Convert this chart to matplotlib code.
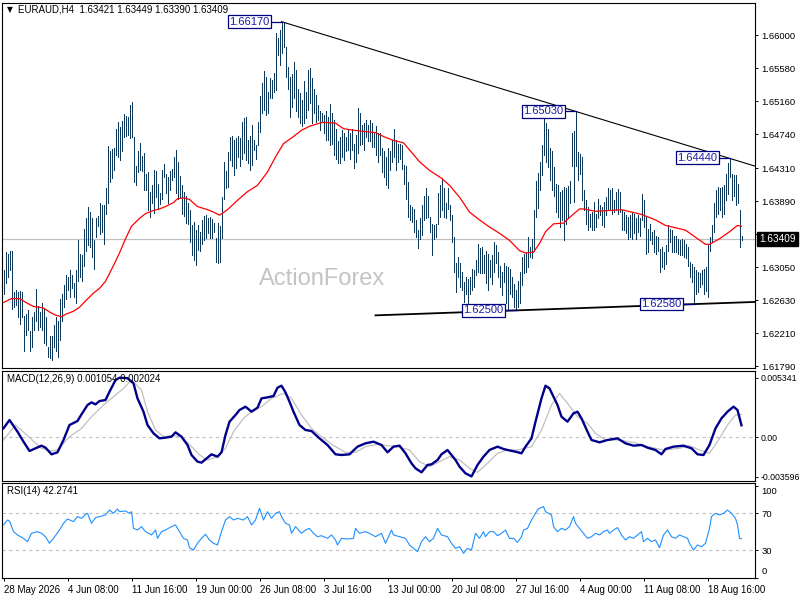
import matplotlib
matplotlib.use('Agg')
import matplotlib.pyplot as plt
import numpy as np

plt.rcParams['font.family'] = ['Liberation Sans', 'DejaVu Sans']

# ---------------- data ----------------
symbol_line = 'EURAUD,H4  1.63421 1.63449 1.63390 1.63409'
macd_title = 'MACD(12,26,9) 0.001054 0.002024'
rsi_title = 'RSI(14) 42.2741'
watermark = 'ActionForex'

bar_high = [
    1.6301,1.6324,1.6322,1.6326,1.6325,1.6274,1.6276,1.6274,1.6275,1.6274,
    1.6243,1.6245,1.6250,1.6224,1.6242,1.6248,1.6277,1.6255,1.6248,1.6260,
    1.6252,1.6242,1.6204,1.6218,1.6218,1.6231,1.6241,1.6237,1.6264,1.6271,
    1.6282,1.6295,1.6293,1.6301,1.6295,1.6285,1.6301,1.6339,1.6322,1.6321,
    1.6354,1.6367,1.6382,1.6375,1.6367,1.6340,1.6367,1.6370,1.6387,1.6384,
    1.6384,1.6406,1.6459,1.6452,1.6455,1.6457,1.6480,1.6490,1.6483,1.6491,
    1.6500,1.6497,1.6496,1.6511,1.6515,1.6470,1.6433,1.6452,1.6463,1.6446,
    1.6450,1.6424,1.6426,1.6401,1.6410,1.6428,1.6427,1.6411,1.6399,1.6429,
    1.6436,1.6424,1.6420,1.6427,1.6430,1.6445,1.6454,1.6439,1.6421,1.6410,
    1.6400,1.6395,1.6386,1.6377,1.6358,1.6363,1.6352,1.6358,1.6350,1.6365,
    1.6370,1.6371,1.6367,1.6369,1.6366,1.6361,1.6342,1.6361,1.6357,1.6394,
    1.6438,1.6427,1.6451,1.6470,1.6472,1.6466,1.6469,1.6472,1.6469,1.6490,
    1.6495,1.6496,1.6467,1.6472,1.6486,1.6467,1.6460,1.6490,1.6523,1.6539,
    1.6554,1.6547,1.6528,1.6545,1.6543,1.6552,1.6603,1.6596,1.6607,1.6617,
    1.6615,1.6585,1.6560,1.6547,1.6551,1.6566,1.6556,1.6532,1.6526,1.6517,
    1.6541,1.6528,1.6556,1.6558,1.6545,1.6532,1.6524,1.6511,1.6503,1.6501,
    1.6498,1.6503,1.6496,1.6512,1.6501,1.6492,1.6481,1.6465,1.6471,1.6479,
    1.6475,1.6471,1.6479,1.6475,1.6481,1.6462,1.6473,1.6507,1.6501,1.6486,
    1.6488,1.6492,1.6486,1.6492,1.6488,1.6475,1.6485,1.6475,1.6476,1.6456,
    1.6452,1.6445,1.6456,1.6452,1.6467,1.6481,1.6466,1.6462,1.6462,1.6460,
    1.6435,1.6433,1.6413,1.6384,1.6382,1.6379,1.6365,1.6352,1.6367,1.6384,
    1.6396,1.6405,1.6395,1.6369,1.6360,1.6358,1.6360,1.6399,1.6409,1.6418,
    1.6405,1.6386,1.6405,1.6384,1.6371,1.6343,1.6310,1.6318,1.6310,1.6299,
    1.6286,1.6293,1.6290,1.6293,1.6303,1.6301,1.6314,1.6335,1.6329,1.6331,
    1.6320,1.6326,1.6322,1.6314,1.6320,1.6337,1.6333,1.6324,1.6307,1.6299,
    1.6310,1.6307,1.6305,1.6303,1.6293,1.6284,1.6276,1.6288,1.6299,1.6318,
    1.6322,1.6324,1.6343,1.6331,1.6341,1.6377,1.6415,1.6425,1.6439,1.6460,
    1.6494,1.6488,1.6481,1.6456,1.6452,1.6432,1.6411,1.6409,1.6400,1.6403,
    1.6407,1.6405,1.6408,1.6415,1.6476,1.6478,1.6503,1.6451,1.6449,1.6445,
    1.6403,1.6390,1.6381,1.6373,1.6375,1.6388,1.6373,1.6392,1.6384,1.6381,
    1.6388,1.6394,1.6405,1.6403,1.6405,1.6390,1.6401,1.6404,1.6401,1.6377,
    1.6375,1.6371,1.6369,1.6371,1.6375,1.6373,1.6367,1.6371,1.6367,1.6398,
    1.6390,1.6369,1.6354,1.6360,1.6350,1.6352,1.6345,1.6343,1.6328,1.6331,
    1.6324,1.6333,1.6358,1.6354,1.6352,1.6345,1.6345,1.6341,1.6339,1.6341,
    1.6339,1.6335,1.6331,1.6312,1.6309,1.6305,1.6301,1.6299,1.6297,1.6301,
    1.6303,1.6305,1.6335,1.6343,1.6358,1.6386,1.6403,1.6407,1.6405,1.6407,
    1.6409,1.6424,1.6437,1.6444,1.6424,1.6422,1.6422,1.6411,1.6377,1.63449,
]
bar_low = [
    1.6271,1.6285,1.6293,1.6301,1.6252,1.6254,1.6257,1.6242,1.6233,1.6242,
    1.6199,1.6219,1.6225,1.6199,1.6204,1.6225,1.6236,1.6225,1.6229,1.6225,
    1.6208,1.6206,1.6191,1.6189,1.6187,1.6204,1.6199,1.6191,1.6212,1.6237,
    1.6254,1.6265,1.6276,1.6267,1.6278,1.6267,1.6260,1.6288,1.6293,1.6287,
    1.6306,1.6326,1.6333,1.6330,1.6318,1.6302,1.6343,1.6357,1.6347,1.6350,
    1.6335,1.6373,1.6386,1.6413,1.6418,1.6428,1.6447,1.6445,1.6441,1.6452,
    1.6471,1.6472,1.6473,1.6469,1.6471,1.6413,1.6409,1.6426,1.6428,1.6427,
    1.6403,1.6403,1.6377,1.6369,1.6386,1.6374,1.6394,1.6379,1.6385,1.6391,
    1.6420,1.6399,1.6386,1.6403,1.6416,1.6420,1.6399,1.6392,1.6394,1.6373,
    1.6370,1.6361,1.6360,1.6337,1.6320,1.6314,1.6308,1.6327,1.6325,1.6335,
    1.6339,1.6342,1.6348,1.6342,1.6342,1.6350,1.6312,1.6310,1.6311,1.6342,
    1.6392,1.6405,1.6407,1.6441,1.6433,1.6422,1.6431,1.6445,1.6433,1.6443,
    1.6450,1.6441,1.6437,1.6428,1.6435,1.6454,1.6443,1.6460,1.6477,1.6501,
    1.6505,1.6498,1.6501,1.6520,1.6520,1.6528,1.6530,1.6575,1.6562,1.6577,
    1.6585,1.6547,1.6532,1.6496,1.6509,1.6520,1.6503,1.6496,1.6488,1.6484,
    1.6488,1.6494,1.6505,1.6513,1.6488,1.6501,1.6490,1.6492,1.6479,1.6490,
    1.6475,1.6467,1.6467,1.6460,1.6462,1.6448,1.6443,1.6437,1.6437,1.6445,
    1.6441,1.6452,1.6454,1.6443,1.6454,1.6431,1.6439,1.6450,1.6460,1.6462,
    1.6454,1.6471,1.6465,1.6465,1.6458,1.6458,1.6447,1.6439,1.6447,1.6426,
    1.6420,1.6409,1.6405,1.6428,1.6439,1.6445,1.6428,1.6439,1.6443,1.6430,
    1.6411,1.6392,1.6369,1.6365,1.6363,1.6350,1.6343,1.6329,1.6341,1.6346,
    1.6365,1.6367,1.6369,1.6350,1.6321,1.6341,1.6343,1.6360,1.6369,1.6377,
    1.6369,1.6367,1.6379,1.6365,1.6337,1.6299,1.6273,1.6293,1.6280,1.6276,
    1.6261,1.6271,1.6259,1.6271,1.6276,1.6280,1.6295,1.6299,1.6297,1.6297,
    1.6297,1.6285,1.6276,1.6293,1.6284,1.6299,1.6310,1.6293,1.6280,1.6269,
    1.6286,1.6259,1.6252,1.6271,1.6267,1.6254,1.6250,1.6254,1.6259,1.6282,
    1.6297,1.6299,1.6305,1.6318,1.6316,1.6326,1.6369,1.6380,1.6403,1.6422,
    1.6447,1.6439,1.6432,1.6416,1.6403,1.6396,1.6375,1.6369,1.6356,1.6365,
    1.6339,1.6360,1.6369,1.6386,1.6433,1.6388,1.6433,1.6416,1.6424,1.6390,
    1.6377,1.6360,1.6352,1.6356,1.6352,1.6352,1.6356,1.6367,1.6371,1.6358,
    1.6356,1.6371,1.6377,1.6377,1.6373,1.6375,1.6377,1.6373,1.6375,1.6352,
    1.6352,1.6348,1.6341,1.6343,1.6341,1.6348,1.6341,1.6350,1.6345,1.6365,
    1.6356,1.6322,1.6324,1.6339,1.6335,1.6324,1.6322,1.6326,1.6299,1.6305,
    1.6303,1.6309,1.6326,1.6337,1.6324,1.6324,1.6324,1.6322,1.6320,1.6320,
    1.6318,1.6316,1.6307,1.6292,1.6286,1.6258,1.6271,1.6273,1.6280,1.6284,
    1.6271,1.6275,1.6267,1.6326,1.6337,1.6350,1.6369,1.6373,1.6377,1.6369,
    1.6373,1.6390,1.6398,1.6420,1.6390,1.6396,1.6384,1.6386,1.6331,1.63390,
]

ma_bar = [0,4,8,12,15,18,20,23,26,29,31,35,38,41,45,48,51,55,58,61,64,68,71,75,78,81,85,87,90,93,
          97,102,105,108,112,117,122,127,132,136,140,145,149,153,158,160,166,170,175,182,186,
          190,195,200,203,208,213,219,223,228,233,238,243,248,253,258,261,265,268,271,275,280,
          283,288,290,296,303,309,314,319,326,331,336,341,346,351,353,358,363,367,369]
ma_val = [1.6260,1.6265,1.6265,1.6259,1.6255,1.6254,1.6253,1.6248,1.6244,1.6242,1.6245,1.6249,
          1.6254,1.6262,1.6272,1.6278,1.6287,1.6307,1.6323,1.6341,1.6357,1.6367,1.6373,1.6377,
          1.6379,1.6382,1.6387,1.6392,1.6393,1.6391,1.6382,1.6378,1.6375,1.6371,1.6378,1.6390,
          1.6401,1.6409,1.6426,1.6445,1.6462,1.6471,1.6479,1.6484,1.6488,1.6489,1.6488,1.6481,
          1.6479,1.6477,1.6476,1.6471,1.6466,1.6463,1.6454,1.6439,1.6428,1.6418,1.6409,1.6394,
          1.6375,1.6365,1.6356,1.6348,1.6339,1.6326,1.6323,1.6324,1.6335,1.6350,1.6360,1.6361,
          1.6368,1.6379,1.6379,1.6376,1.6377,1.6378,1.6375,1.6372,1.6365,1.6358,1.6355,1.6352,
          1.6343,1.6334,1.6334,1.6341,1.6350,1.6358,1.6357]

macd_bar = [0,3,7,10,13,16,19,21,24,27,30,33,37,39,42,44,46,48,51,53,56,58,62,65,67,70,72,75,78,
            81,84,86,89,92,94,97,99,102,104,107,109,111,113,116,118,121,124,127,129,132,135,137,
            139,141,143,145,148,151,154,158,162,166,169,173,177,181,185,189,192,195,198,201,204,
            206,209,212,214,217,219,222,226,228,231,234,237,240,243,247,250,252,256,259,261,264,
            266,269,271,273,277,279,282,285,287,289,292,294,298,302,307,311,315,319,322,326,329,
            331,335,340,344,347,350,353,356,359,362,365,367,369]
macd_val = [0.00078,0.00153,0.00048,-0.00042,-0.00126,-0.00102,-0.00078,-0.00096,-0.00156,
            -0.00138,-0.00027,0.00108,0.00144,0.00204,0.00288,0.00312,0.00294,0.00324,0.00333,
            0.00408,0.00513,0.00534,0.00530,0.00483,0.00348,0.00228,0.00108,0.00033,-0.00012,
            -0.00006,0.00003,0.00042,0.00003,-0.00072,-0.00162,-0.00222,-0.00231,-0.00186,
            -0.00156,-0.00177,-0.00138,0.00018,0.00138,0.00198,0.00243,0.00273,0.00228,0.00264,
            0.00348,0.00357,0.00369,0.00444,0.00462,0.00402,0.00318,0.00228,0.00108,0.00063,
            0.00054,-0.00012,-0.00072,-0.00156,-0.00162,-0.00156,-0.00087,-0.00057,-0.00042,
            -0.00072,-0.00138,-0.00087,-0.00078,-0.00147,-0.00237,-0.00282,-0.00318,-0.00252,
            -0.00246,-0.00207,-0.00156,-0.00117,-0.00207,-0.00267,-0.00327,-0.00355,-0.00252,
            -0.00177,-0.00117,-0.00087,-0.00108,-0.00117,-0.00132,-0.00147,-0.00087,-0.00012,
            0.00138,0.00348,0.00462,0.00438,0.00288,0.00183,0.00138,0.00213,0.00228,0.00168,
            0.00048,-0.00027,-0.00048,-0.00027,-0.00012,-0.00057,-0.00078,-0.00072,-0.00096,
            -0.00117,-0.00156,-0.00108,-0.00087,-0.00078,-0.00102,-0.00156,-0.00162,-0.00072,
            0.00078,0.00168,0.00228,0.00273,0.00243,0.001054]

signal_bar = [0,6,19,24,27,33,39,44,50,55,60,64,69,72,76,80,85,89,94,98,102,107,111,115,120,125,
              129,134,140,144,149,154,158,164,171,176,181,187,192,197,203,208,213,218,223,228,233,
              237,242,247,252,257,264,269,274,278,282,287,292,296,301,307,315,322,330,338,343,348,
              353,358,362,366,369]
signal_val = [-0.00027,0.00108,-0.00102,-0.00126,-0.00117,0.00003,0.00078,0.00183,0.00288,0.00363,
              0.00438,0.00513,0.00423,0.00228,0.00063,0.00003,0.00012,0.00003,-0.00087,-0.00162,
              -0.00207,-0.00177,-0.00102,0.00048,0.00168,0.00243,0.00273,0.00348,0.00393,0.00348,
              0.00198,0.00078,0.00018,-0.00066,-0.00138,-0.00138,-0.00087,-0.00066,-0.00078,
              -0.00087,-0.00117,-0.00222,-0.00267,-0.00222,-0.00177,-0.00207,-0.00282,-0.00318,
              -0.00237,-0.00147,-0.00117,-0.00117,-0.00087,0.00063,0.00288,0.00393,0.00303,0.00183,
              0.00123,0.00033,-0.00027,-0.00027,-0.00048,-0.00087,-0.00117,-0.00102,-0.00078,
              -0.00117,-0.00147,-0.00012,0.00108,0.00198,0.002024]

rsi_bar = [0,2,3,5,7,10,12,14,17,19,21,23,25,28,30,32,35,37,39,41,42,44,46,48,51,53,55,57,58,61,
           63,64,65,67,69,71,74,76,77,79,81,84,86,88,90,92,93,95,97,99,101,103,105,107,109,111,113,
           115,117,120,122,124,126,128,130,132,134,136,138,139,141,143,144,146,149,151,153,155,157,
           159,162,164,166,167,169,172,175,176,178,181,183,186,189,191,194,195,198,201,203,205,207,
           209,211,213,215,217,219,222,224,226,228,230,232,234,236,238,240,241,243,245,247,249,251,
           253,255,257,259,260,262,264,265,267,268,270,271,274,275,277,279,281,283,285,286,288,290,
           292,294,296,298,300,302,303,305,307,309,311,313,315,317,319,320,322,324,326,328,330,332,
           334,336,338,340,342,343,345,347,349,351,353,354,356,358,360,362,364,366,367,368,369]
rsi_val = [57.3,62.7,61.6,50.0,46.4,42.7,39.1,48.2,50.0,48.2,44.5,37.3,42.7,51.8,59.1,63.8,60.9,
           66.4,64.5,68.9,70.0,59.1,65.3,66.4,68.2,73.6,70.0,74.7,71.8,72.5,70.0,71.8,53.6,51.8,55.5,
           50.0,46.4,51.8,42.7,50.0,51.8,55.5,57.3,50.0,42.7,40.9,32.5,30.0,37.3,42.7,47.1,40.9,37.3,
           35.5,50.0,62.7,66.4,62.7,64.5,62.7,66.4,57.3,62.7,75.5,62.7,71.8,64.5,70.0,71.8,66.4,59.1,
           57.3,48.2,55.5,48.2,51.8,53.6,48.2,44.5,45.6,42.7,46.4,40.9,35.5,42.7,42.0,42.7,53.6,48.2,
           50.0,48.2,44.5,48.2,37.3,51.8,46.4,44.5,42.7,35.5,31.8,28.2,39.1,44.5,39.1,42.7,53.6,46.4,
           44.5,37.3,31.8,33.6,26.4,31.8,30.0,48.2,42.7,50.0,44.5,50.0,50.0,45.6,48.2,51.8,42.7,42.7,
           38.4,44.5,51.8,53.6,62.7,66.4,73.6,75.5,77.3,71.8,68.2,55.5,50.0,53.6,51.8,55.5,66.4,59.1,
           53.6,48.2,42.7,44.5,48.2,46.4,50.0,51.8,48.2,51.8,54.4,46.4,40.9,44.5,42.7,46.4,50.0,39.1,
           42.7,39.1,40.9,32.5,46.4,51.8,44.5,42.7,46.4,44.5,42.7,37.3,30.0,35.5,33.6,37.3,53.6,66.4,
           70.0,68.2,70.0,73.6,70.0,64.5,57.3,42.7,42.27]

price_ticks = [1.66000, 1.65580, 1.65160, 1.64740, 1.64310, 1.63890, 1.63470,
               1.63050, 1.62630, 1.62210, 1.61790]
macd_ticks = [0.005341, 0.0, -0.003596]
macd_tick_labels = ['0.005341', '0.00', '-0.003596']
rsi_levels = [70, 30]
rsi_ticks = [100, 70, 30, 0]

date_bars = [0, 32, 64, 96, 128, 160, 192, 224, 256, 288, 320, 352]
date_labels = ['28 May 2026', '4 Jun 08:00', '11 Jun 16:00', '19 Jun 00:00', '26 Jun 08:00',
               '3 Jul 16:00', '13 Jul 00:00', '20 Jul 08:00', '27 Jul 16:00', '4 Aug 00:00',
               '11 Aug 08:00', '18 Aug 16:00']

swing_bar = [139, 286, 363, 256, 345]
swing_price = [1.66170, 1.65030, 1.64440, 1.62500, 1.62580]

upper_anchor_bar = [139, 286]
upper_anchor_price = [1.66170, 1.65030]
lower_anchor_bar = [256, 345]
lower_anchor_price = [1.62500, 1.62580]
lower_start_bar = 186

current_price = 1.63409

# ---------------- layout ----------------
W, H = 800, 600
fig = plt.figure(figsize=(8, 6), dpi=100)
fig.patch.set_facecolor('white')


def rect(x0, y0, x1, y1):
    return [x0 / W, 1 - y1 / H, (x1 - x0) / W, (y1 - y0) / H]


ax = fig.add_axes(rect(2, 2.7, 754.5, 368))
axm = fig.add_axes(rect(2, 370.7, 754.5, 481))
axr = fig.add_axes(rect(2, 482.7, 754.5, 578.3))

XMIN = -0.75
XMAX = XMIN + 752.5 / 2.0
for a in (ax, axm, axr):
    a.set_xlim(XMIN, XMAX)
    for s in a.spines.values():
        s.set_color('black')
        s.set_linewidth(0.8)
    a.yaxis.tick_right()
    a.tick_params(axis='y', direction='out', length=2.5, width=0.7, pad=2.5,
                  labelsize=6.8, colors='black')
    a.set_facecolor('white')
ax.set_xticks([])
axm.set_xticks([])

# ---------------- main panel ----------------
ax.set_ylim(1.61768, 1.66411)
idx = np.arange(len(bar_high))
ax.vlines(idx, bar_low, bar_high, colors='#0d3a5c', linewidth=0.6, antialiased=False, zorder=3)
ax.plot(ma_bar, ma_val, color='#ff0000', lw=0.9, zorder=4)
ax.axhline(current_price, color='#c0c0c0', lw=0.9, zorder=1)

ax.text(0.4252, 0.2436, watermark, transform=ax.transAxes, ha='center', va='center',
        fontsize=17, color='#c4c4c4', zorder=0)

# trend lines
k_up = (upper_anchor_price[1] - upper_anchor_price[0]) / (upper_anchor_bar[1] - upper_anchor_bar[0])
ax.plot([upper_anchor_bar[0], XMAX],
        [upper_anchor_price[0], upper_anchor_price[0] + k_up * (XMAX - upper_anchor_bar[0])],
        color='black', lw=0.8, zorder=5, clip_on=True)
k_lo = (lower_anchor_price[1] - lower_anchor_price[0]) / (lower_anchor_bar[1] - lower_anchor_bar[0])
ax.plot([lower_start_bar, XMAX],
        [lower_anchor_price[0] + k_lo * (lower_start_bar - lower_anchor_bar[0]),
         lower_anchor_price[0] + k_lo * (XMAX - lower_anchor_bar[0])],
        color='black', lw=1.3, zorder=5, clip_on=True)

# swing labels
for b, p in zip(swing_bar, swing_price):
    ax.plot([b - 5, b], [p, p], color='#000080', lw=0.9, zorder=6)
    ax.text(b - 6, p, f'{p:.5f}', ha='right', va='center', fontsize=8, color='#1c1ca8',
            zorder=7, bbox=dict(boxstyle='square,pad=0.12', fc='white', ec='#000080', lw=0.9))

ax.set_yticks(price_ticks)
ax.set_yticklabels([f'{v:.5f}' for v in price_ticks])

ax.annotate(f'{current_price:.5f}', xy=(1, current_price), xycoords=ax.get_yaxis_transform(),
            xytext=(3.4, 0), textcoords='offset points', ha='left', va='center',
            color='white', fontsize=7.2, annotation_clip=False, zorder=20,
            bbox=dict(boxstyle='square,pad=0.22', fc='black', ec='black'))

fig.text(7 / W, 1 - 10 / H, '\u25bc', fontsize=5.5, va='center', ha='left',
         family=['DejaVu Sans'])
fig.text(18 / W, 1 - 10 / H, symbol_line, fontsize=7, va='center', ha='left')

# ---------------- MACD panel ----------------
axm.set_ylim(-0.003963, 0.005972)
axm.axhline(0, color='#c0c0c0', lw=0.8, ls=(0, (3, 3)), zorder=1)
axm.plot(signal_bar, signal_val, color='#c0c0c0', lw=0.9, zorder=2)
axm.plot(macd_bar, macd_val, color='#00008b', lw=1.7, zorder=3)
axm.set_yticks(macd_ticks)
axm.set_yticklabels(macd_tick_labels)
axm.tick_params(axis='y', labelsize=6.3, pad=2)
fig.text(7 / W, 1 - 379 / H, macd_title, fontsize=7, va='center', ha='left')

# ---------------- RSI panel ----------------
axr.set_ylim(-0.84, 103.35)
for lv in rsi_levels:
    axr.axhline(lv, color='#c0c0c0', lw=0.8, ls=(0, (3, 3)), zorder=1)
axr.plot(rsi_bar, rsi_val, color='#1e90ff', lw=0.8, zorder=2)
axr.set_yticks(rsi_ticks)
axr.set_yticklabels(['', '70', '30', ''])
axr.annotate('100', xy=(1, 100), xycoords=axr.get_yaxis_transform(), xytext=(5, -1),
             textcoords='offset points', ha='left', va='top', fontsize=6.8, annotation_clip=False)
axr.annotate('0', xy=(1, 0), xycoords=axr.get_yaxis_transform(), xytext=(5, 1),
             textcoords='offset points', ha='left', va='bottom', fontsize=6.8, annotation_clip=False)
fig.text(7 / W, 1 - 491 / H, rsi_title, fontsize=7, va='center', ha='left')

axr.set_xticks(date_bars)
axr.set_xticklabels(date_labels, ha='left', fontsize=7)
axr.tick_params(axis='x', direction='out', length=2.5, width=0.7, pad=2)

fig.savefig('out.png', dpi=100, facecolor='white')
